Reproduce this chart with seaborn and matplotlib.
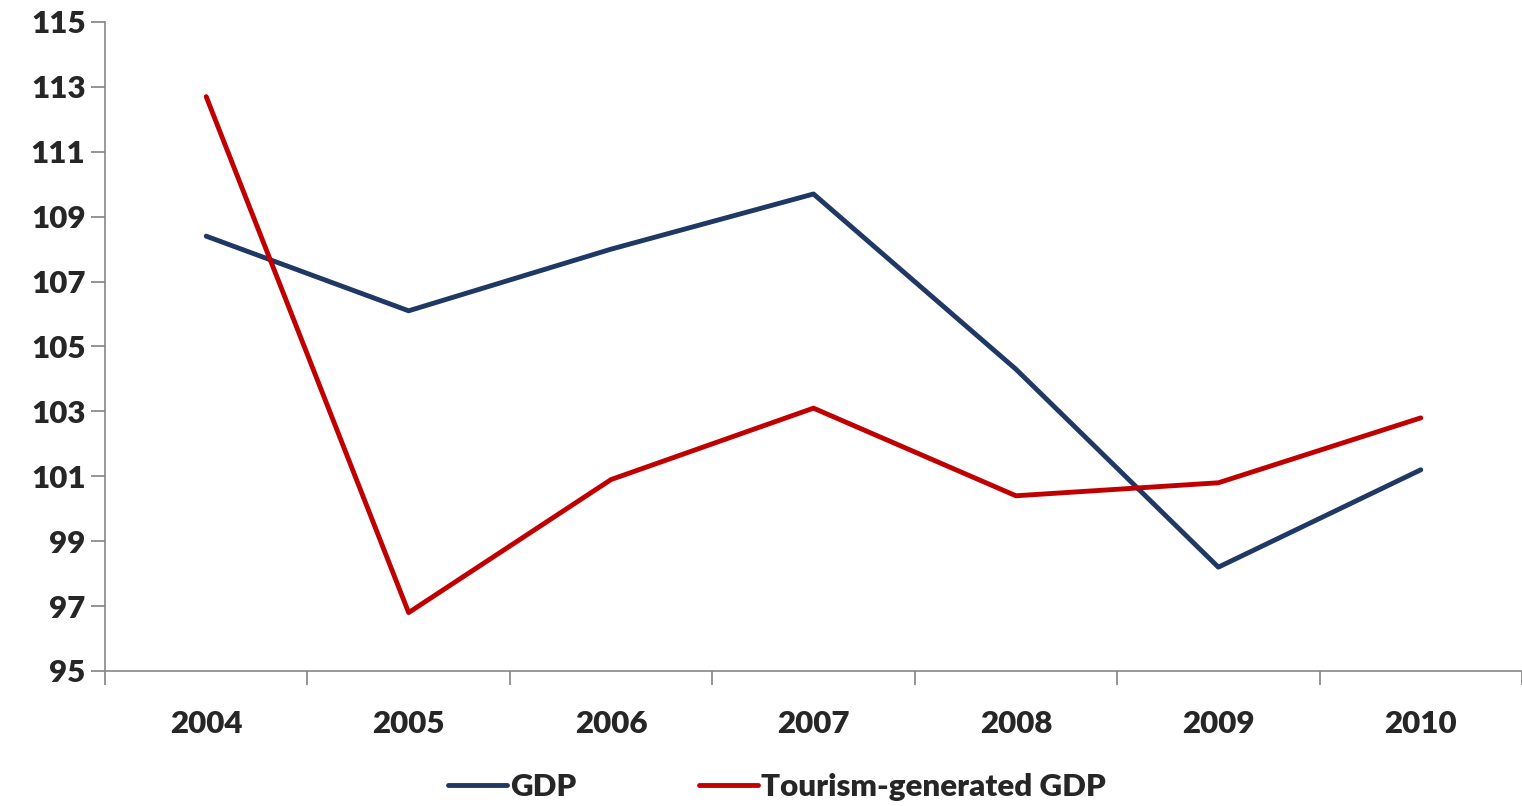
import matplotlib
matplotlib.use("Agg")
import matplotlib.pyplot as plt
import seaborn as sns
import pandas as pd
import numpy as np

years = ["2004", "2005", "2006", "2007", "2008", "2009", "2010"]
gdp = [108.4, 106.1, 108.0, 109.7, 104.3, 98.2, 101.2]
tourism = [112.7, 96.8, 100.9, 103.1, 100.4, 100.8, 102.8]

sns.set_theme(style="white")
plt.rcParams['font.family'] = ['Lato', 'DejaVu Sans']
plt.rcParams['font.weight'] = 'bold'

df = pd.DataFrame({"Year": years * 2,
                   "Value": gdp + tourism,
                   "Series": ["GDP"] * 7 + ["Tourism-generated GDP"] * 7})

fig = plt.figure(figsize=(15.22, 8.06), dpi=100)
ax = fig.add_axes([105/1522, 1-671/806, 1417/1522, 649/806])
x = np.arange(len(years))
df["x"] = np.tile(x, 2)
sns.lineplot(data=df, x="x", y="Value", hue="Series",
             palette={"GDP": "#1f3864", "Tourism-generated GDP": "#c00000"},
             linewidth=3.5, ax=ax, legend=False)
ax.set_xlim(-0.5, 6.5)
ax.set_ylim(95, 115)
ax.set_yticks(range(95, 116, 2))
ax.set_xticks(np.arange(-0.5, 7, 1))
ax.set_xticklabels([])
ax.set_xticks(x, minor=True)
ax.set_xticklabels(years, minor=True)
ax.tick_params(axis='x', which='major', length=10, color='#888888', direction='out', bottom=True)
ax.tick_params(axis='x', which='minor', length=0, pad=28, labelsize=22.5)
ax.tick_params(axis='y', length=10, color='#888888', direction='out', left=True, labelsize=22.5, pad=4)
for lab in ax.get_xticklabels(minor=True) + ax.get_yticklabels():
    lab.set_fontweight('heavy')
ax.set_xlabel("")
ax.set_ylabel("")
for s in ["top", "right"]:
    ax.spines[s].set_visible(False)
for s in ["left", "bottom"]:
    ax.spines[s].set_color('#888888')
    ax.spines[s].set_linewidth(1.2)

from matplotlib.lines import Line2D
handles = [Line2D([], [], color="#1f3864", lw=3.5), Line2D([], [], color="#c00000", lw=3.5)]
fig.legend(handles, ["GDP", "Tourism-generated GDP"], loc='center', bbox_to_anchor=(777/1522, 1-787/806),
           ncol=2, frameon=False, handlelength=1.9, handletextpad=0.1, columnspacing=3.9,
           prop={'weight': 'heavy', 'size': 22.5})
fig.savefig("out.png", dpi=100)
